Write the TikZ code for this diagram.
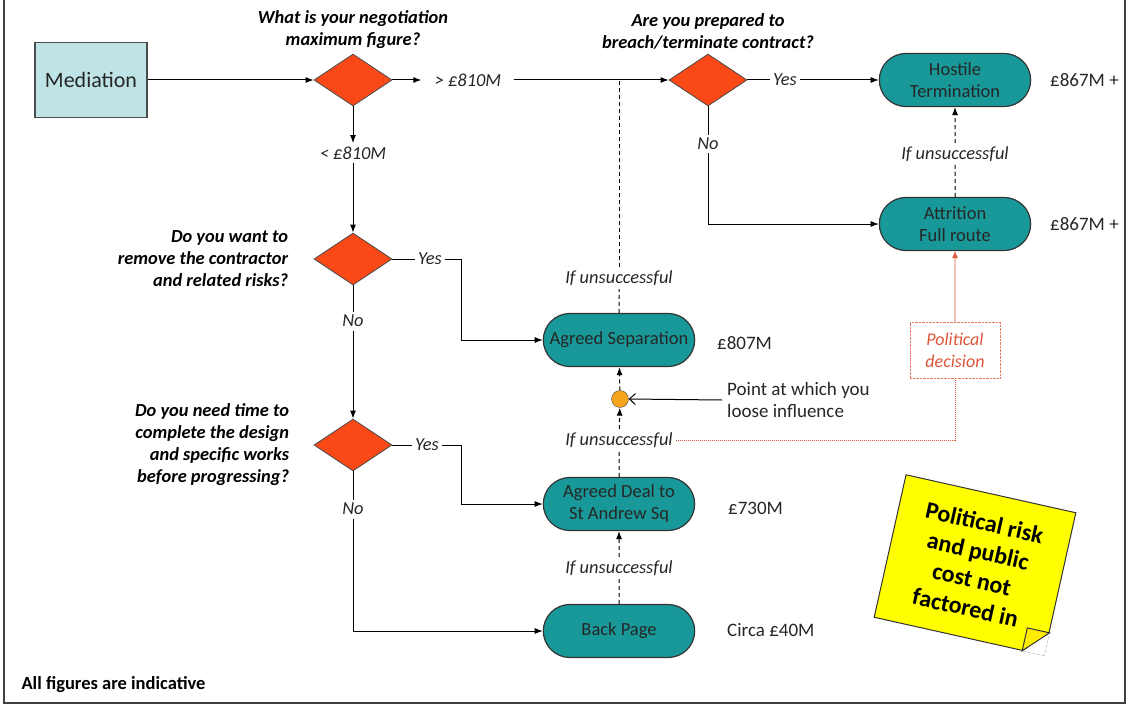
\documentclass[tikz,border=0pt]{standalone}
\usepackage{fontspec}
\setmainfont{Carlito}
\usetikzlibrary{positioning,shapes.geometric,shapes.misc,arrows.meta,calc}

\definecolor{tealbox}{RGB}{24,152,152}
\definecolor{redq}{RGB}{250,72,22}
\definecolor{medfill}{RGB}{190,228,230}
\definecolor{dotorange}{RGB}{246,164,28}
\definecolor{polred}{RGB}{222,86,58}
\definecolor{notey}{RGB}{255,255,0}

\tikzstyle{startbox} = [rectangle, minimum width=112pt, minimum height=75pt, draw=black!70, line width=1.3pt, fill=medfill, text=black!85, font=\fontsize{22}{24}\selectfont]
\tikzstyle{decision} = [diamond, minimum width=78pt, minimum height=52pt, inner sep=0pt, draw=black!70, line width=0.8pt, fill=redq]
\tikzstyle{outcome} = [rounded rectangle, minimum width=158pt, minimum height=53pt, draw=black!80, line width=1.2pt, fill=tealbox, text=black!85, align=center, font=\fontsize{18.5}{22}\selectfont]
\tikzstyle{question} = [align=center, font=\bfseries\itshape\fontsize{18.4}{22}\selectfont]
\tikzstyle{answer} = [font=\itshape\fontsize{18.4}{21}\selectfont, text=black!85]
\tikzstyle{cost} = [anchor=west, inner sep=0pt, font=\fontsize{19}{22}\selectfont, text=black!85]
\tikzstyle{arrow} = [line width=1pt, -{Latex[length=8pt,width=6pt]}]
\tikzstyle{link} = [line width=1pt]
\tikzstyle{retry} = [line width=1pt, dash pattern=on 4pt off 3pt]
\tikzstyle{retryarrow} = [retry, -{Latex[length=8pt,width=6pt]}]

\begin{document}
\begin{tikzpicture}[x=1pt, y=-1pt]
\useasboundingbox (0,0) rectangle (1129,706);
\draw [line width=2.5pt, black!75] (4,-5) -- (4,703) -- (1125,703) -- (1125,-5);

        % left column: the questions
        \node (med) [startbox] at (91,80) {Mediation};
        \node (q1) [decision] at (353,80) {};
        \node (q1txt) [question, above=1pt of q1] {What is your negotiation\\maximum figure?};
        \node (gt) [answer] at (468,80) {> £810M};
        \node (lt) [answer] at (353,153) {< £810M};
        \node (q3) [decision] at (353,259) {};
        \node (q3txt) [question, align=right, left=22pt of q3] {Do you want to\\remove the contractor\\and related risks?};
        \node (yes1) [answer] at (430,259) {Yes};
        \node (no1) [answer] at (353,321) {No};
        \node (q4) [decision] at (353,445) {};
        \node (q4txt) [question, align=right, left=21pt of q4] {Do you need time to\\complete the design\\and specific works\\before progressing?};
        \node (yes2) [answer] at (427,445) {Yes};
        \node (no2) [answer] at (353,509) {No};

        \draw [arrow] (med) -- (q1);
        \draw [arrow, shorten >=10pt] (q1) -- (gt);
        \draw [arrow] (q1) -- (lt);
        \draw [arrow] (lt) -- (q3);
        \draw [link] (q3) -- (yes1);
        \draw [link] (q3) -- (no1);
        \draw [arrow] (no1) -- (q4);
        \draw [link] (q4) -- (yes2);
        \draw [link] (q4) -- (no2);

        % middle column: the negotiated routes
        \node (sep) [outcome] at (619,340) {Agreed Separation};
        \node (deal) [outcome] at (619,504) {Agreed Deal to\\St Andrew Sq};
        \node (back) [outcome] at (619,631) {Back Page};
        \node (pt) [circle, minimum size=17pt, inner sep=0pt, draw=black!70, fill=dotorange] at (620,399) {};
        \node (u1) [answer] at (619,278) {If unsuccessful};
        \node (u2) [answer] at (619,440) {If unsuccessful};
        \node (u3) [answer] at (619,568) {If unsuccessful};
        \coordinate (join) at (619,80);

        \node (c807) [cost] at (717,343) {£807M};
        \node (c730) [cost] at (728,508) {£730M};
        \node (c40) [cost] at (727,630) {Circa £40M};
        \node (infl) [cost, align=left, inner sep=5pt] at (722,400) {Point at which you\\loose influence};

        \draw [arrow] (yes1.east) -- ++(16,0) |- (sep.west);
        \draw [arrow] (yes2.east) -- ++(19,0) |- (deal.west);
        \draw [arrow] (no2.south) |- (back.west);
        \draw [retry] (back) -- (u3);
        \draw [retryarrow] (u3) -- (deal);
        \draw [retry] (deal) -- (u2);
        \draw [retryarrow] (u2) -- (pt);
        \draw [retryarrow] (pt) -- (sep);
        \draw [retry] (sep) -- (u1);
        \draw [retry] (u1) -- (join);
        \draw [line width=1pt, -{Straight Barb[length=6pt,width=11pt]}] (infl.west) -- (pt.east);

        % right column: the contract routes
        \node (q2) [decision] at (708,80) {};
        \node (q2txt) [question, above=1pt of q2] {Are you prepared to\\breach/terminate contract?};
        \node (yes3) [answer] at (785,80) {Yes};
        \node (no3) [answer] at (708,144) {No};
        \node (host) [outcome] at (955,80) {Hostile\\Termination};
        \node (attr) [outcome] at (955,224) {Attrition\\Full route};
        \node (u4) [answer] at (955,154) {If unsuccessful};
        \node (polit) [draw=polred!80, densely dotted, text=polred, align=center, minimum width=90pt, minimum height=56pt, font=\itshape\fontsize{18}{22}\selectfont] at (955,350) {Political\\decision};
        \node (c867a) [cost] at (1050,80) {£867M +};
        \node (c867b) [cost] at (1050,224) {£867M +};

        \draw [arrow, shorten <=9pt] (gt) -- (q2);
        \draw [link] (q2) -- (yes3);
        \draw [arrow] (yes3) -- (host);
        \draw [link] (q2) -- (no3);
        \draw [arrow] (no3.south) |- (attr.west);
        \draw [retry] (attr) -- (u4);
        \draw [retryarrow] (u4) -- (host);
        \draw [polred, line width=0.8pt, -{Latex[length=7pt,width=6pt]}] (polit) -- (attr);
        \draw [polred, line width=1pt, densely dotted] (u2.east) -| (polit.south);

        % sticky note
        \node (note) [rotate=-12.6, fill=notey, draw=black!80, line width=1pt, minimum width=174pt, minimum height=146pt, align=center, font=\bfseries\fontsize{24}{29}\selectfont] at (975,565) {Political risk\\and public\\cost not\\factored in};
        \coordinate (fa) at ($(note.south east)!0.13!(note.south west)$);
        \coordinate (fb) at ($(note.south east)!0.16!(note.north east)$);
        \fill [white] (fa) -- (note.south east) -- (fb) -- cycle;
        \filldraw [fill=notey!85!orange, draw=black!80, line width=1pt] (fa) -- (fb) -- ($(fa)+(fb)-(note.south east)$) -- cycle;

        \node (foot) [anchor=west, font=\bfseries\fontsize{18.5}{21}\selectfont] at (18,685) {All figures are indicative};

\end{tikzpicture}
\end{document}
